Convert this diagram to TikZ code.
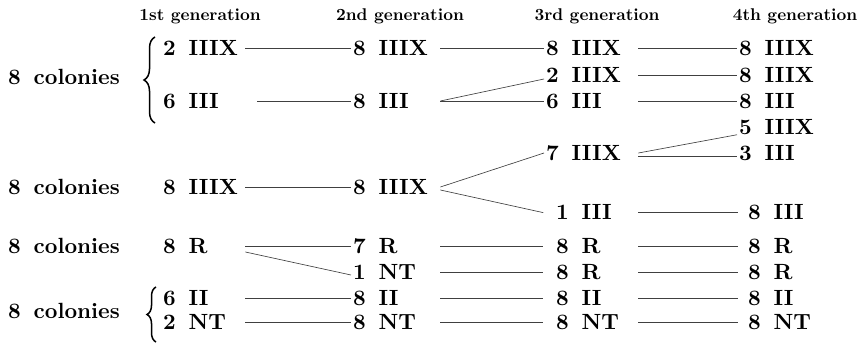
\documentclass[tikz,border=0pt]{standalone}
\usepackage{fontspec}
\setmainfont{lmroman10}[Extension=.otf, UprightFont=*-regular, BoldFont=*-bold, ItalicFont=*-italic, BoldItalicFont=*-bolditalic]
\usetikzlibrary{decorations.pathreplacing}
\newcommand{\gp}{\hspace{0.58em}}
\begin{document}
\begin{tikzpicture}[x=1pt,y=-1pt,
  lab/.style={font=\fontsize{22}{25}\selectfont\bfseries, inner xsep=2pt, inner ysep=0pt, text height=15.1pt, text depth=0pt, anchor=west},
  hd/.style={font=\fontsize{17}{20}\selectfont\bfseries, anchor=base, inner sep=0pt},
  colA/.style={lab, text width=80pt, align=left},
  colB/.style={lab, text width=85pt, align=left},
  colCu/.style={lab, text width=90pt, align=left},
  colCl/.style={lab, text width=80pt, align=left},
  link/.style={draw=black!75, line width=0.65pt},
  brc/.style={draw=black, line width=1.5pt, decorate, decoration={brace, amplitude=#1, aspect=0.5}},
  gapC/.style={shorten >=11pt},
  gapD/.style={shorten >=8pt}]
\useasboundingbox (0,0) rectangle (866,344);

% headers
\node[hd] (h1) at (200,21) {1st generation};
\node[hd] (h2) at (400,21) {2nd generation};
\node[hd] (h3) at (597,21) {3rd generation};
\node[hd] (h4) at (795,21) {4th generation};

% left labels
\node[lab] (L1) at (6,77) {8\gp colonies};
\node[lab] (L2) at (6,187) {8\gp colonies};
\node[lab] (L3) at (6,246) {8\gp colonies};
\node[lab] (L4) at (6,311) {8\gp colonies};

% braces
\coordinate (B1t) at (155,37);
\coordinate (B1b) at (155,123);
\coordinate (B2t) at (156,287);
\coordinate (B2b) at (156,342);
\draw[brc=11pt] (B1b) -- (B1t);
\draw[brc=9pt] (B2b) -- (B2t);

% 1st generation
\node[colA] (a1) at (161,48) {2\gp IIIX};
\node[colA] (a3) at (161,101) {6\gp III};
\node[colA] (a6) at (161,187) {8\gp IIIX};
\node[colA] (a8) at (161,246) {8\gp R};
\node[colA] (a10) at (161,298) {6\gp II};
\node[colA] (a11) at (161,322) {2\gp NT};

% 2nd generation
\node[colB] (b1) at (351,48) {8\gp IIIX};
\node[colB] (b3) at (351,101) {8\gp III};
\node[colB] (b6) at (351,187) {8\gp IIIX};
\node[colB] (b8) at (351,246) {7\gp R};
\node[colB] (b9) at (351,272) {1\gp NT};
\node[colB] (b10) at (351,298) {8\gp II};
\node[colB] (b11) at (351,322) {8\gp NT};

% 3rd generation
\node[colCu] (c1) at (544,48) {8\gp IIIX};
\node[colCu] (c2) at (544,75) {2\gp IIIX};
\node[colCu] (c3) at (544,101) {6\gp III};
\node[colCu] (c5) at (544,153) {7\gp IIIX};
\node[colCl] (c7) at (554,212) {1\gp III};
\node[colCl] (c8) at (554,246) {8\gp R};
\node[colCl] (c9) at (554,272) {8\gp R};
\node[colCl] (c10) at (554,298) {8\gp II};
\node[colCl] (c11) at (554,322) {8\gp NT};

% 4th generation
\node[lab] (d1) at (737,48) {8\gp IIIX};
\node[lab] (d2) at (737,75) {8\gp IIIX};
\node[lab] (d3) at (737,101) {8\gp III};
\node[lab] (d4) at (737,127) {5\gp IIIX};
\node[lab] (d5) at (737,153) {3\gp III};
\node[lab] (d7) at (746,212) {8\gp III};
\node[lab] (d8) at (746,246) {8\gp R};
\node[lab] (d9) at (746,272) {8\gp R};
\node[lab] (d10) at (746,298) {8\gp II};
\node[lab] (d11) at (746,322) {8\gp NT};

% 1st -> 2nd
\draw[link] (a1.east) -- (b1.west);
\draw[link, shorten <=12pt] (a3.east) -- (b3.west);
\draw[link] (a6.east) -- (b6.west);
\draw[link] (a8.east) -- (b8.west);
\draw[link] ([yshift=-6pt]a8.east) -- ([yshift=-3pt]b9.west);
\draw[link] (a10.east) -- (b10.west);
\draw[link] (a11.east) -- (b11.west);

% 2nd -> 3rd
\draw[link] (b1.east) -- (c1.west);
\draw[link] (b3.east) -- ([yshift=-4pt]c2.west);
\draw[link] (b3.east) -- (c3.west);
\draw[link] (b6.east) -- (c5.west);
\draw[link, gapC] ([yshift=-3pt]b6.east) -- ([yshift=-3pt]c7.west);
\draw[link, gapC] (b8.east) -- (c8.west);
\draw[link, gapC] (b9.east) -- (c9.west);
\draw[link, gapC] (b10.east) -- (c10.west);
\draw[link, gapC] (b11.east) -- (c11.west);

% 3rd -> 4th
\draw[link] (c1.east) -- (d1.west);
\draw[link] (c2.east) -- (d2.west);
\draw[link] (c3.east) -- (d3.west);
\draw[link] (c5.east) -- (d4.south west);
\draw[link] ([yshift=-3pt]c5.east) -- ([yshift=-3pt]d5.west);
\draw[link, gapD] (c7.east) -- (d7.west);
\draw[link, gapD] (c8.east) -- (d8.west);
\draw[link, gapD] (c9.east) -- (d9.west);
\draw[link, gapD] (c10.east) -- (d10.west);
\draw[link, gapD] (c11.east) -- (d11.west);
\end{tikzpicture}
\end{document}
